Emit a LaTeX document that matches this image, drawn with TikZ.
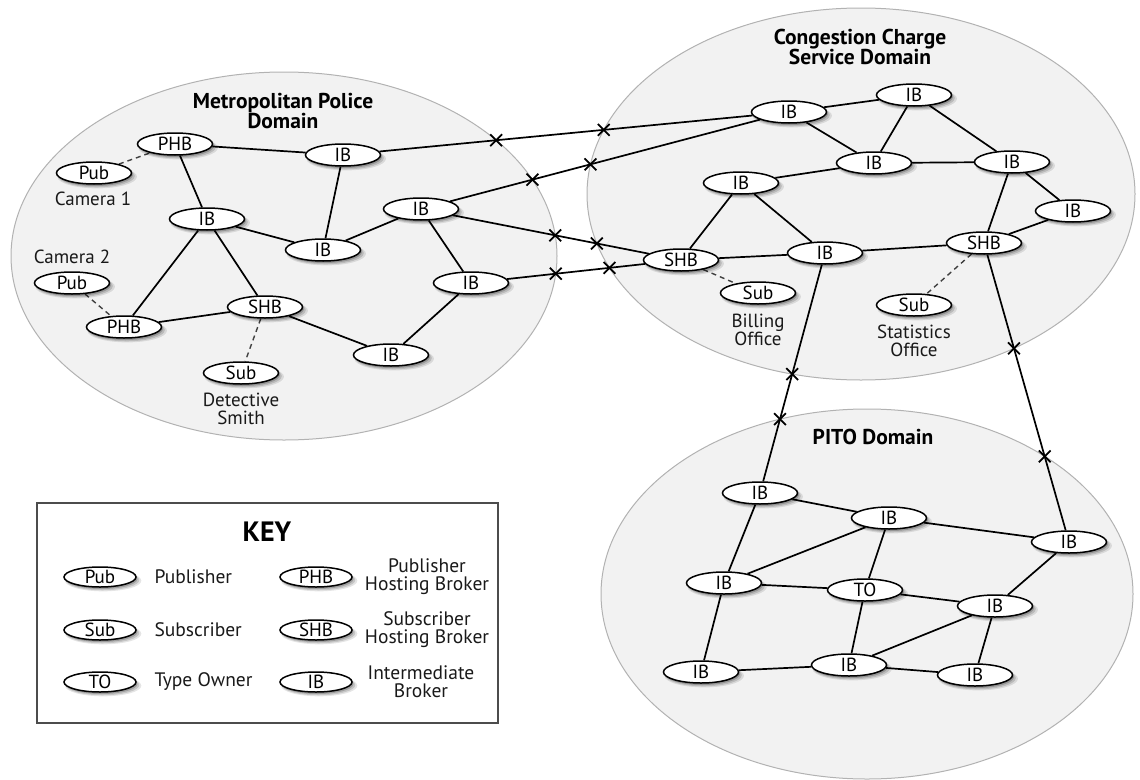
\documentclass[tikz,border=0pt]{standalone}
\usepackage{fontspec}
\setmainfont{PT Sans}
\usetikzlibrary{shapes.geometric,shapes.misc,intersections,shadows}
\pgfdeclarelayer{domainlayer}
\pgfdeclarelayer{linklayer}
\pgfsetlayers{domainlayer,linklayer,main}

\tikzset{
  softshadow/.style={
    drop shadow={shadow xshift=3pt, shadow yshift=-3.5pt, shadow scale=1.06,
      fill=black, opacity=0.10},
    drop shadow={shadow xshift=2.5pt, shadow yshift=-3pt, shadow scale=1.02,
      fill=black, opacity=0.14},
    drop shadow={shadow xshift=1.5pt, shadow yshift=-2pt,
      fill=black, opacity=0.20}},
  broker/.style={ellipse, draw=black, line width=1.5pt, fill=white,
    minimum width=75pt, minimum height=22pt, inner sep=0pt,
    text height=13pt, text depth=0pt, font=\fontsize{19}{19}\selectfont,
    softshadow},
  keybroker/.style={broker, minimum width=72pt, minimum height=20pt},
  domainarea/.style={draw=black!30, line width=1pt, fill=black!5},
  link/.style={line width=1.7pt},
  hostlink/.style={line width=1.4pt, dash pattern=on 5pt off 4pt, draw=black!75},
  crossmark/.style={cross out, draw=black, line width=1.8pt,
    minimum size=10pt, inner sep=0pt},
  nodecaption/.style={align=center, font=\fontsize{19}{17.5}\selectfont, text=black!90},
  domaintitle/.style={align=center, font=\bfseries\fontsize{21.5}{19}\selectfont},
  keytext/.style={font=\fontsize{19.5}{18}\selectfont, text=black!90},
  keyframe/.style={draw=black!70, line width=2pt, minimum width=461pt,
    minimum height=220pt, inner sep=0pt},
}

\begin{document}
\begin{tikzpicture}[x=1pt,y=-1pt]
\useasboundingbox (0,0) rectangle (1140,779);

% the three administrative domains
\begin{pgfonlayer}{domainlayer}
  \draw[domainarea, name path global=metdom] (284,256) ellipse [x radius=273pt, y radius=184pt];
  \draw[domainarea, name path global=ccdom] (861,194) ellipse [x radius=274pt, y radius=186pt];
  \draw[domainarea, name path global=pitodom] (867,594) ellipse [x radius=266pt, y radius=185pt];
\end{pgfonlayer}

\node[domaintitle] (mettitle) at (283,111) {Metropolitan Police\\Domain};
\node[domaintitle] (cctitle) at (860,47) {Congestion Charge\\Service Domain};
\node[domaintitle] (pitotitle) at (873,437) {PITO Domain};

% Metropolitan Police domain
\node[broker] (phbA) at (175,144) {PHB};
\node[broker] (pubA) at (94,173) {Pub};
\node[nodecaption] (camA) at (93,199) {Camera 1};
\node[broker] (ibA) at (343,155) {IB};
\node[broker] (ibB) at (207,219) {IB};
\node[broker] (ibC) at (323,250) {IB};
\node[broker] (ibD) at (421,209) {IB};
\node[nodecaption] (camB) at (72,257) {Camera 2};
\node[broker] (pubB) at (72,283) {Pub};
\node[broker] (phbB) at (124,327) {PHB};
\node[broker] (shbA) at (265,307) {SHB};
\node[broker] (subA) at (241,373) {Sub};
\node[nodecaption] (detective) at (241,409) {Detective\\Smith};
\node[broker] (ibE) at (471,283) {IB};
\node[broker] (ibF) at (391,355) {IB};

% Congestion Charge Service domain
\node[broker] (cc1) at (789,112) {IB};
\node[broker] (cc2) at (914,95) {IB};
\node[broker] (cc3) at (874,163) {IB};
\node[broker] (cc4) at (1012,162) {IB};
\node[broker] (cc5) at (741,183) {IB};
\node[broker] (cc6) at (1073,211) {IB};
\node[broker] (shbB) at (681,260) {SHB};
\node[broker] (cc7) at (825,253) {IB};
\node[broker] (shbC) at (984,243) {SHB};
\node[broker] (subB) at (758,293) {Sub};
\node[nodecaption] (billing) at (758,330) {Billing\\Office};
\node[broker] (subC) at (914,305) {Sub};
\node[nodecaption] (stats) at (914,341) {Statistics\\Office};

% PITO domain
\node[broker] (p1) at (760,493) {IB};
\node[broker] (p2) at (889,518) {IB};
\node[broker] (p3) at (1069,542) {IB};
\node[broker] (p4) at (724,583) {IB};
\node[broker] (p5) at (865,590) {TO};
\node[broker] (p6) at (995,606) {IB};
\node[broker] (p7) at (701,672) {IB};
\node[broker] (p8) at (849,665) {IB};
\node[broker] (p9) at (975,675) {IB};

% key
\node[keyframe] (keybox) at (267.5,613) {};
\node[font=\bfseries\fontsize{28}{28}\selectfont] (keyhead) at (267,532) {KEY};
\node[keybroker] (kpub) at (100,577) {Pub};
\node[keytext, anchor=west] (kpubtxt) at (151,577) {Publisher};
\node[keybroker] (ksub) at (100,630) {Sub};
\node[keytext, anchor=west] (ksubtxt) at (151,630) {Subscriber};
\node[keybroker] (kto) at (100,682) {TO};
\node[keytext, anchor=west] (ktotxt) at (151,682) {Type Owner};
\node[keybroker] (kphb) at (316,577) {PHB};
\node[keytext, align=center] (kphbtxt) at (427,577) {Publisher\\Hosting Broker};
\node[keybroker] (kshb) at (316,630) {SHB};
\node[keytext, align=center] (kshbtxt) at (427,630) {Subscriber\\Hosting Broker};
\node[keybroker] (kib) at (316,682) {IB};
\node[keytext, align=center] (kibtxt) at (421,682) {Intermediate\\Broker};

\begin{pgfonlayer}{linklayer}
  % links inside the Metropolitan Police domain
  \draw[hostlink] (pubA) -- (phbA);
  \draw[hostlink] (pubB) -- (phbB);
  \draw[hostlink] (shbA) -- (subA);
  \draw[link] (phbA) -- (ibA);
  \draw[link] (phbA) -- (ibB);
  \draw[link] (ibA) -- (ibC);
  \draw[link] (ibB) -- (ibC);
  \draw[link] (ibC) -- (ibD);
  \draw[link] (ibB) -- (phbB);
  \draw[link] (ibB) -- (shbA);
  \draw[link] (phbB) -- (shbA);
  \draw[link] (shbA) -- (ibF);
  \draw[link] (ibD) -- (ibE);
  \draw[link] (ibE) -- (ibF);

  % links inside the Congestion Charge domain
  \draw[hostlink] (shbB) -- (subB);
  \draw[hostlink] (shbC) -- (subC);
  \draw[link] (cc1) -- (cc2);
  \draw[link] (cc1) -- (cc3);
  \draw[link] (cc2) -- (cc3);
  \draw[link] (cc2) -- (cc4);
  \draw[link] (cc3) -- (cc4);
  \draw[link] (cc3) -- (cc5);
  \draw[link] (cc4) -- (cc6);
  \draw[link] (cc4) -- (shbC);
  \draw[link] (cc6) -- (shbC);
  \draw[link] (cc5) -- (shbB);
  \draw[link] (cc5) -- (cc7);
  \draw[link] (shbB) -- (cc7);
  \draw[link] (cc7) -- (shbC);

  % links inside the PITO domain
  \draw[link] (p1) -- (p2);
  \draw[link] (p1) -- (p4);
  \draw[link] (p2) -- (p3);
  \draw[link] (p2) -- (p4);
  \draw[link] (p2) -- (p5);
  \draw[link] (p4) -- (p5);
  \draw[link] (p4) -- (p7);
  \draw[link] (p5) -- (p6);
  \draw[link] (p5) -- (p8);
  \draw[link] (p3) -- (p6);
  \draw[link] (p6) -- (p8);
  \draw[link] (p6) -- (p9);
  \draw[link] (p7) -- (p8);
  \draw[link] (p8) -- (p9);

  % links between domains, marked where they cross a domain boundary
  \draw[link, name path=xa] (ibA) -- (cc1);
  \draw[link, name path=xb] (ibD) -- (cc1);
  \draw[link, name path=xc] (ibD) -- (shbB);
  \draw[link, name path=xd] (ibE) -- (shbB);
  \draw[link, name path=xe] (cc7) -- (p1);
  \draw[link, name path=xf] (shbC) -- (p3);

  \path[name intersections={of=xa and metdom, by=xaA}];
  \path[name intersections={of=xa and ccdom, by=xaB}];
  \path[name intersections={of=xb and metdom, by=xbA}];
  \path[name intersections={of=xb and ccdom, by=xbB}];
  \path[name intersections={of=xc and metdom, by=xcA}];
  \path[name intersections={of=xc and ccdom, by=xcB}];
  \path[name intersections={of=xd and metdom, by=xdA}];
  \path[name intersections={of=xd and ccdom, by=xdB}];
  \path[name intersections={of=xe and ccdom, by=xeA}];
  \path[name intersections={of=xe and pitodom, by=xeB}];
  \path[name intersections={of=xf and ccdom, by=xfA}];
  \path[name intersections={of=xf and pitodom, by=xfB}];

  \node[crossmark] (kxaA) at (xaA) {};
  \node[crossmark] (kxaB) at (xaB) {};
  \node[crossmark] (kxbA) at (xbA) {};
  \node[crossmark] (kxbB) at (xbB) {};
  \node[crossmark] (kxcA) at (xcA) {};
  \node[crossmark] (kxcB) at (xcB) {};
  \node[crossmark] (kxdA) at (xdA) {};
  \node[crossmark] (kxdB) at (xdB) {};
  \node[crossmark] (kxeA) at (xeA) {};
  \node[crossmark] (kxeB) at (xeB) {};
  \node[crossmark] (kxfA) at (xfA) {};
  \node[crossmark] (kxfB) at (xfB) {};
\end{pgfonlayer}
\end{tikzpicture}
\end{document}
